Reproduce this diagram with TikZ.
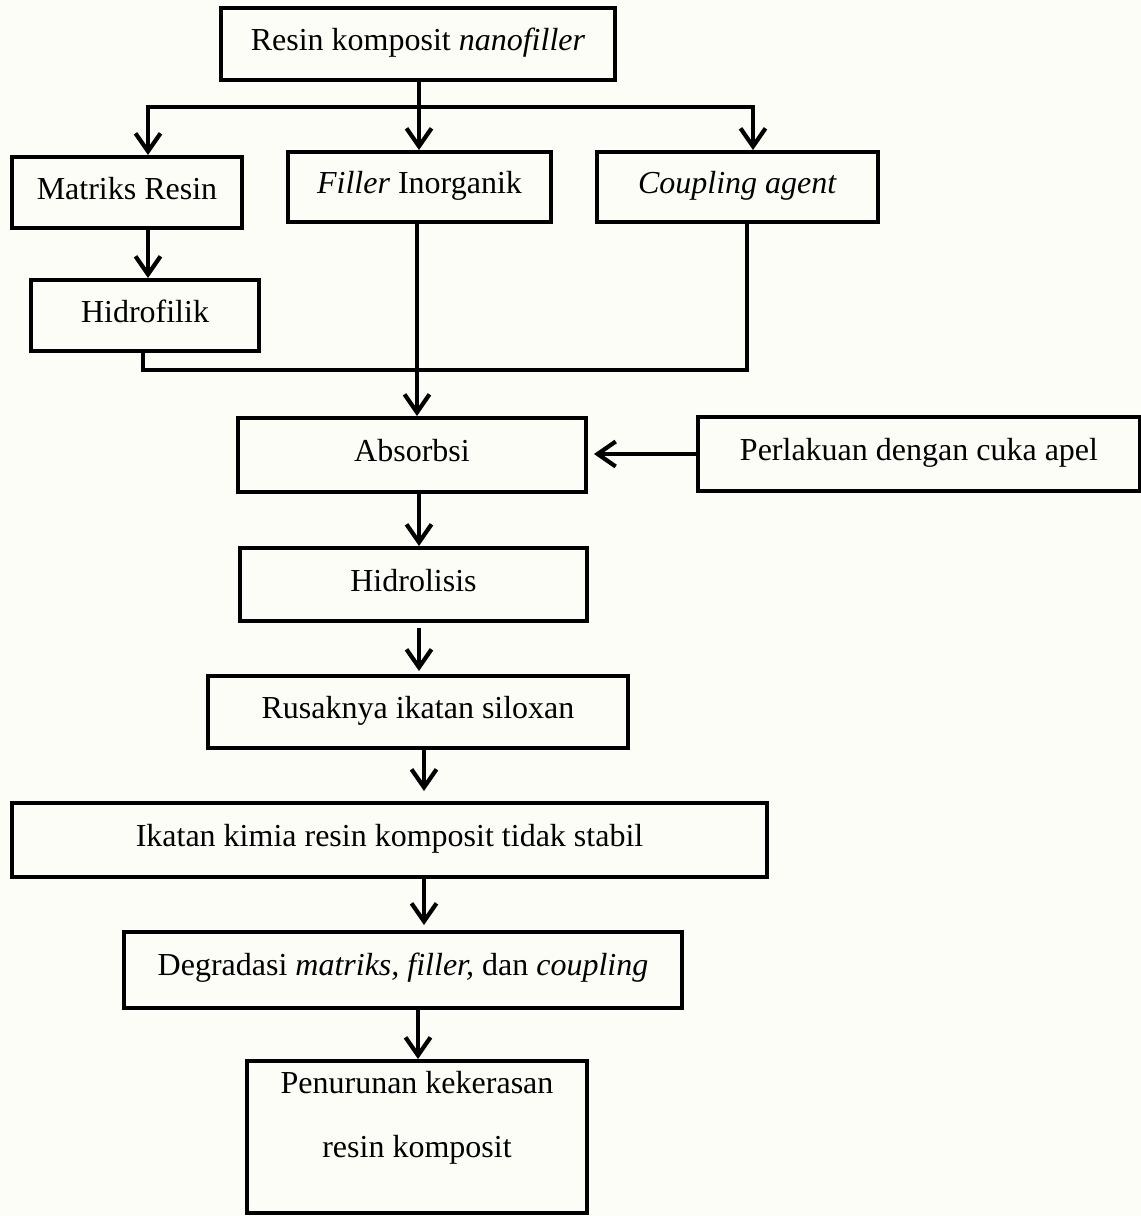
\documentclass[tikz,border=0pt]{standalone}
\usepackage{fontspec}
\setmainfont{Liberation Serif}
\usetikzlibrary{arrows.meta,calc}
\definecolor{bgcream}{RGB}{253,253,248}
\begin{document}
\begin{tikzpicture}[x=1pt,y=-1pt,
  box/.style={draw, line width=4pt, rectangle, inner sep=0pt,
    font=\fontsize{32}{38}\selectfont, text height=21pt, text depth=8pt},
  arr/.style={line width=4.2pt, -{Straight Barb[length=18pt,width=25pt,line width=4.2pt]}},
  link/.style={line width=4pt}]
\fill[bgcream] (0,0) rectangle (1141,1216);
\useasboundingbox (0,0) rectangle (1141,1216);

% boxes
\node[box, minimum width=394pt, minimum height=72pt] (top) at (418,44) {Resin komposit \textit{nanofiller}};
\node[box, minimum width=230pt, minimum height=71pt] (matriks) at (127,192.5) {Matriks Resin};
\node[box, minimum width=263pt, minimum height=70pt] (filler) at (419.5,187) {\textit{Filler} Inorganik};
\node[box, minimum width=281pt, minimum height=70pt] (coupling) at (737.5,187) {\textit{Coupling agent}};
\node[box, minimum width=228pt, minimum height=71pt] (hidro) at (145,315.5) {Hidrofilik};
\node[box, minimum width=348pt, minimum height=74pt] (absorbsi) at (412,455) {Absorbsi};
\node[box, minimum width=442pt, minimum height=74pt] (perl) at (919,454) {Perlakuan dengan cuka apel};
\node[box, minimum width=347pt, minimum height=73pt] (hidrol) at (413.5,584.5) {Hidrolisis};
\node[box, minimum width=420pt, minimum height=72pt] (rusak) at (418,712) {Rusaknya ikatan siloxan};
\node[box, minimum width=755pt, minimum height=74pt] (ikatan) at (389.5,840) {Ikatan kimia resin komposit tidak stabil};
\node[box, minimum width=558pt, minimum height=76pt, text depth=11pt] (degr) at (403,970) {Degradasi \textit{matriks, filler,} dan \textit{coupling}};
\node[box, minimum width=340pt, minimum height=152pt] (pen) at (417,1137) {};
\node[font=\fontsize{32}{64}\selectfont, align=center, inner sep=0pt] (pentxt) at (417,1118) {Penurunan kekerasan\\resin komposit};

% junction coordinates
\coordinate (hj) at (419,107);
\coordinate (bl) at (148,107);
\coordinate (br) at (753,107);
\coordinate (jl) at (143,370);
\coordinate (jr) at (747,370);
\coordinate (mid) at (419,0);
\coordinate (low) at (424,0);

% top distribution
\draw[link] (top.south -| hj) -- (hj);
\draw[link, line cap=rect] (bl) -- (br);
\draw[arr] (bl) -- (bl |- matriks.north);
\draw[arr] (hj) -- (filler.north -| hj);
\draw[arr] (br) -- (br |- coupling.north);
\draw[arr] (matriks.south -| bl) -- (hidro.north -| bl);

% collection to absorbsi
\draw[link] (hidro.south -| jl) -- (jl) -- (jr) -- (coupling.south -| jr);
\draw[arr] (filler.south -| 417,0) -- (absorbsi.north -| 417,0);
\draw[arr, shorten >=6pt] (perl.west) -- (perl.west -| absorbsi.east);

% main chain
\draw[arr] (absorbsi.south -| mid) -- (hidrol.north -| mid);
\draw[arr, shorten <=5pt, shorten >=3pt] (hidrol.south -| mid) -- (rusak.north -| mid);
\draw[arr, shorten >=10pt] (rusak.south -| low) -- (ikatan.north -| low);
\draw[arr, shorten >=5pt] (ikatan.south -| low) -- (degr.north -| low);
\draw[arr] (degr.south -| 418,0) -- (pen.north -| 418,0);
\end{tikzpicture}
\end{document}
